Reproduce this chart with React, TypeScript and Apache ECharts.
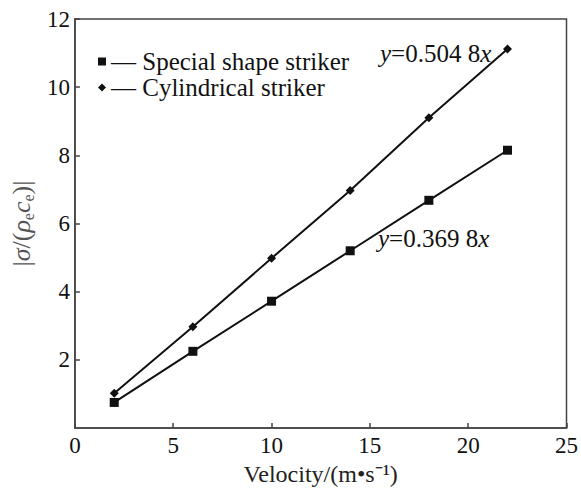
import { useEffect, useRef } from 'react';
import * as echarts from 'echarts';

const velocities = [2, 6, 10, 14, 18, 22];
const specialShape = [0.75, 2.25, 3.72, 5.2, 6.68, 8.15];
const cylindrical = [1.02, 2.97, 4.98, 6.97, 9.1, 11.12];
const seriesNames = ['Special shape striker', 'Cylindrical striker'];
const fitSlopes = ['0.504 8', '0.369 8'];

const FONT = 'Times New Roman, Liberation Serif, serif';

export default function App() {
  const ref = useRef<HTMLDivElement>(null);
  useEffect(() => {
    if (!ref.current) return;
    const chart = echarts.init(ref.current, undefined, { renderer: 'svg' });
    const toPairs = (ys: number[]) => velocities.map((x, i) => [x, ys[i]]);
    const eqRich = {
      i: { fontFamily: FONT, fontSize: 25, fontStyle: 'italic', fill: '#111' },
      n: { fontFamily: FONT, fontSize: 25, fill: '#111' },
    };
    chart.setOption({
      animation: false,
      backgroundColor: '#fff',
      textStyle: { fontFamily: FONT },
      grid: {
        left: 72, right: 12, top: 19, bottom: 64,
        show: true, borderColor: '#444', borderWidth: 1.5,
      },
      legend: {
        orient: 'vertical',
        left: 93,
        top: 44,
        itemWidth: 8,
        itemHeight: 8,
        itemGap: 1,
        selectedMode: false,
        formatter: (name: string) => '\u2014 ' + name,
        textStyle: { fontFamily: FONT, fontSize: 25, color: '#111' },
        data: [
          { name: seriesNames[0], icon: 'rect' },
          { name: seriesNames[1], icon: 'diamond' },
        ],
      },
      xAxis: {
        type: 'value', min: 0, max: 25, interval: 5,
        axisLine: { lineStyle: { color: '#444', width: 1.5 } },
        axisTick: { inside: true, length: 5, lineStyle: { color: '#444', width: 1.5 } },
        axisLabel: { fontFamily: FONT, fontSize: 23, color: '#111', margin: 6 },
        splitLine: { show: false },
        name: 'Velocity/(m\u2022s\u207B\u00B9)',
        nameLocation: 'middle',
        nameGap: 34,
        nameTextStyle: { fontFamily: FONT, fontSize: 24, color: '#222' },
      },
      yAxis: {
        type: 'value', min: 0, max: 12, interval: 2,
        axisLine: { lineStyle: { color: '#444', width: 1.5 } },
        axisTick: { inside: true, length: 5, lineStyle: { color: '#444', width: 1.5 } },
        axisLabel: { fontFamily: FONT, fontSize: 23, color: '#111', margin: 5, showMinLabel: false },
        splitLine: { show: false },
        name: '{n||}{i|σ}{n|/(}{i|ρ}{s|e}{i|c}{s|e}{n|)|}',
        nameLocation: 'middle',
        nameGap: 37,
        nameRotate: 90,
        nameTextStyle: {
          fontFamily: FONT, fontSize: 26, color: '#555',
          rich: {
            n: { fontFamily: FONT, fontSize: 26, color: '#555', lineHeight: 30, verticalAlign: 'middle' },
            i: { fontFamily: FONT, fontSize: 26, color: '#555', fontStyle: 'italic', lineHeight: 30, verticalAlign: 'middle' },
            s: { fontFamily: FONT, fontSize: 16, color: '#555', lineHeight: 30, verticalAlign: 'bottom' },
          },
        },
      },
      series: [
        {
          name: seriesNames[0], type: 'line', data: toPairs(specialShape),
          symbol: 'rect', symbolSize: 9, showAllSymbol: true,
          itemStyle: { color: '#111' }, lineStyle: { color: '#111', width: 2 },
        },
        {
          name: seriesNames[1], type: 'line', data: toPairs(cylindrical),
          symbol: 'diamond', symbolSize: 9, showAllSymbol: true,
          itemStyle: { color: '#111' }, lineStyle: { color: '#111', width: 2 },
        },
      ],
      graphic: [
        {
          type: 'text', left: 380, top: 41,
          style: { text: '{i|y}{n|=' + fitSlopes[0] + '}{i|x}', rich: eqRich },
        },
        {
          type: 'text', left: 378, top: 226,
          style: { text: '{i|y}{n|=' + fitSlopes[1] + '}{i|x}', rich: eqRich },
        },
      ],
    });
    return () => chart.dispose();
  }, []);
  return (
    <div
      ref={ref}
      style={{ position: 'fixed', left: 0, top: 0, width: 581, height: 492 }}
    />
  );
}
